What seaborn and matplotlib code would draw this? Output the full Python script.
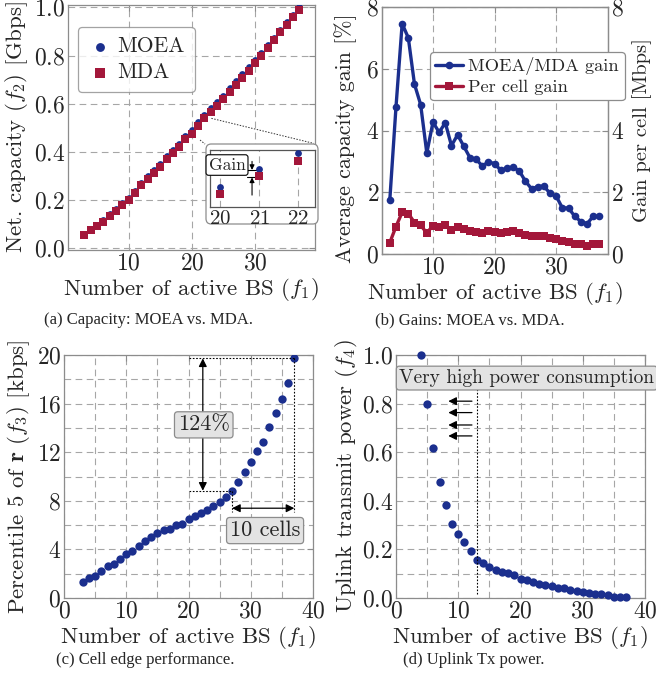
import numpy as np
import pandas as pd
import matplotlib
matplotlib.use("Agg")
import matplotlib.pyplot as plt
import seaborn as sns
from matplotlib.patches import FancyBboxPatch

# ---------------- data ----------------
n_bs = list(range(3, 38))
moea_cap = [0.057, 0.077, 0.097, 0.117, 0.142, 0.163, 0.186, 0.209, 0.237, 0.272,
            0.298, 0.325, 0.350, 0.381, 0.409, 0.433, 0.465, 0.489, 0.523, 0.554,
            0.580, 0.607, 0.633, 0.664, 0.694, 0.722, 0.752, 0.782, 0.812, 0.842,
            0.874, 0.906, 0.938, 0.970, 1.000]
mda_cap = [0.056, 0.0735, 0.0903, 0.1093, 0.1346, 0.1555, 0.1801, 0.2004, 0.2280, 0.2609,
           0.2879, 0.3129, 0.3382, 0.3695, 0.3968, 0.4210, 0.4515, 0.4751, 0.5092, 0.5391,
           0.5641, 0.5911, 0.6184, 0.6503, 0.6792, 0.7065, 0.7375, 0.7676, 0.8001, 0.8296,
           0.8635, 0.8966, 0.9289, 0.9583, 0.9879]
gain_pct = [1.76, 4.76, 7.46, 7.00, 5.50, 4.84, 3.27, 4.27, 3.94, 4.25,
            3.51, 3.86, 3.49, 3.12, 3.07, 2.85, 2.98, 2.93, 2.71, 2.77,
            2.82, 2.69, 2.36, 2.11, 2.18, 2.20, 1.96, 1.87, 1.49, 1.49,
            1.22, 1.05, 0.98, 1.22, 1.22]
gain_cell = [0.37, 0.89, 1.35, 1.31, 1.02, 0.93, 0.68, 0.92, 0.86, 0.94,
             0.78, 0.89, 0.81, 0.73, 0.72, 0.68, 0.73, 0.72, 0.68, 0.70,
             0.75, 0.68, 0.61, 0.57, 0.57, 0.58, 0.52, 0.50, 0.41, 0.40,
             0.32, 0.31, 0.26, 0.32, 0.32]
p5_rate = [1.30, 1.66, 1.79, 2.21, 2.62, 2.81, 3.17, 3.59, 3.86, 4.28,
           4.66, 5.05, 5.32, 5.60, 5.71, 5.99, 6.12, 6.48, 6.76, 6.98,
           7.26, 7.59, 7.92, 8.28, 8.83, 9.57, 10.40, 11.17, 12.08, 12.88,
           14.10, 15.26, 16.41, 17.66, 19.72]
n_bs_d = list(range(4, 38))
ul_power = [1.000, 0.800, 0.617, 0.479, 0.383, 0.304, 0.263, 0.231, 0.193, 0.158,
            0.146, 0.127, 0.114, 0.107, 0.101, 0.094, 0.080, 0.073, 0.066, 0.059,
            0.055, 0.048, 0.043, 0.043, 0.034, 0.029, 0.023, 0.022, 0.018, 0.015,
            0.011, 0.004, 0.004, 0.004]

BLUE = "#1b2f8e"
RED = "#a3173a"
GRAY = "#8c8c8c"

sns.set_style("white")
plt.rcParams["font.family"] = ["cmr10"]
plt.rcParams["mathtext.fontset"] = "cm"
plt.rcParams["axes.formatter.use_mathtext"] = True
plt.rcParams["axes.unicode_minus"] = False

TICK_FS = 17
LAB_FS = 16.5

W, H = 656, 679
fig = plt.figure(figsize=(W / 100, H / 100), dpi=100)


def rect(l, r, t, b):
    return [l / W, 1 - b / H, (r - l) / W, (b - t) / H]


def style(ax, xmaj, ymaj, xmin=None, ymin=None):
    ax.set_xticks(xmaj)
    ax.set_yticks(ymaj)
    if xmin is not None:
        ax.set_xticks(xmin, minor=True)
    if ymin is not None:
        ax.set_yticks(ymin, minor=True)
    ax.grid(True, which="both", color="#a6a6a6", linestyle=(0, (6, 4)), linewidth=0.8)
    ax.set_axisbelow(True)
    for s in ax.spines.values():
        s.set_color(GRAY)
        s.set_linewidth(0.9)
    ax.tick_params(which="both", direction="in", top=True, right=True,
                   color=GRAY, labelsize=TICK_FS, pad=2)
    ax.tick_params(which="major", length=4)
    ax.tick_params(which="minor", length=0)


# ---------------- (a) ----------------
axa = fig.add_axes(rect(68, 315, 5, 250))
sns.scatterplot(x=n_bs, y=moea_cap, ax=axa, color=BLUE, marker="o", s=24,
                linewidth=0, label="MOEA", zorder=3)
sns.scatterplot(x=n_bs, y=mda_cap, ax=axa, color=RED, marker="s", s=32,
                linewidth=0, label="MDA", zorder=4)
axa.set_xlim(0.4, 39.5)
axa.set_ylim(-0.008, 1.01)
style(axa, [10, 20, 30], [0.0, 0.2, 0.4, 0.6, 0.8, 1.0])
axa.set_xlabel("Number of active BS ($f_1$)", fontsize=LAB_FS, labelpad=1)
axa.set_ylabel("Net. capacity ($f_2$) [Gbps]", fontsize=LAB_FS, labelpad=3)
leg = axa.legend(loc="upper left", bbox_to_anchor=(0.04, 0.91), borderaxespad=0,
                 fontsize=15.5, frameon=True, fancybox=True, edgecolor=GRAY,
                 handletextpad=0.2, borderpad=0.45, labelspacing=0.3,
                 markerscale=1.3, handlelength=1.2)
leg.get_frame().set_linewidth(0.9)

# connector lines
axa.plot([23.1, 39.3], [0.539, 0.435], ls=(0, (1.5, 1.5)), color="#333333",
         lw=0.7, clip_on=False, zorder=5)
axa.plot([21.3, 22.1], [0.449, 0.432], ls=(0, (1.5, 1.5)), color="#333333",
         lw=0.7, clip_on=False, zorder=5)

# outer rounded box of the inset
box = FancyBboxPatch((206 / W, 1 - 224 / H), (318 - 206) / W, (224 - 144) / H,
                     boxstyle="round,pad=0,rounding_size=0.008",
                     transform=fig.transFigure, facecolor="white",
                     edgecolor=GRAY, linewidth=0.9, zorder=10)
fig.patches.append(box)

axi = fig.add_axes(rect(210, 315, 150, 207), zorder=11)
sns.scatterplot(x=n_bs, y=moea_cap, ax=axi, color=BLUE, marker="o", s=24,
                linewidth=0, legend=False, zorder=3)
sns.scatterplot(x=n_bs, y=mda_cap, ax=axi, color=RED, marker="s", s=32,
                linewidth=0, legend=False, zorder=4)
axi.set_xlim(19.745, 22.43)
axi.set_ylim(0.45, 0.56)
axi.set_xticks([20, 21, 22])
axi.set_yticks([])
axi.grid(True, axis="x", color="#a6a6a6", linestyle=(0, (6, 4)), linewidth=0.8)
axi.set_axisbelow(True)
for s in axi.spines.values():
    s.set_color("#555555")
    s.set_linewidth(0.9)
axi.tick_params(axis="x", direction="in", length=0, labelsize=15, pad=2)
axi.set_xlabel("")
axi.set_ylabel("")
axi.text(20.18, 0.531, "Gain", fontsize=12.5, ha="center", va="center",
         bbox=dict(boxstyle="round,pad=0.15", fc="white", ec="black", lw=0.8),
         zorder=6, clip_on=False)
axi.plot([20.68, 20.98], [0.5215, 0.5215], color="black", lw=0.8)
axi.plot([20.68, 20.98], [0.507, 0.507], color="black", lw=0.8)
axi.annotate("", xy=(20.82, 0.5215), xytext=(20.82, 0.538),
             arrowprops=dict(arrowstyle="-|>", color="black", lw=0.8,
                             mutation_scale=7, shrinkA=0, shrinkB=0))
axi.annotate("", xy=(20.82, 0.507), xytext=(20.82, 0.473),
             arrowprops=dict(arrowstyle="-|>", color="black", lw=0.8,
                             mutation_scale=7, shrinkA=0, shrinkB=0))

# ---------------- (b) ----------------
axb = fig.add_axes(rect(382, 608, 7, 254))
sns.lineplot(x=n_bs, y=gain_pct, ax=axb, color=BLUE, marker="o", markersize=5.5,
             markeredgewidth=0, linewidth=2.4, label="MOEA/MDA gain", legend=False)
axb.set_xlim(1.73, 38.4)
axb.set_ylim(0, 8)
style(axb, [10, 20, 30], [0, 2, 4, 6, 8])
axb.tick_params(right=False)
axb.set_xlabel("Number of active BS ($f_1$)", fontsize=LAB_FS, labelpad=1)
axb.set_ylabel("Average capacity gain [%]", fontsize=15.8, labelpad=3)
axb.yaxis.set_label_coords(-0.11, 0.47)

axb2 = axb.twinx()
sns.lineplot(x=n_bs, y=gain_cell, ax=axb2, color=RED, marker="s", markersize=5.5,
             markeredgewidth=0, linewidth=2.4, label="Per cell gain", legend=False)
axb2.set_ylim(0, 8)
axb2.set_yticks([0, 2, 4, 6, 8])
axb2.grid(False)
for s in axb2.spines.values():
    s.set_color(GRAY)
    s.set_linewidth(0.9)
axb2.tick_params(direction="in", color=GRAY, labelsize=TICK_FS, length=4, pad=2)
axb2.set_ylabel("Gain per cell [Mbps]", fontsize=14.8, labelpad=6)
h1, l1 = axb.get_legend_handles_labels()
h2, l2 = axb2.get_legend_handles_labels()
legb = axb2.legend(h1 + h2, l1 + l2, loc="upper left", bbox_to_anchor=(0.212, 0.818),
                   borderaxespad=0, fontsize=13.2, frameon=True, fancybox=True,
                   edgecolor=GRAY, handlelength=1.5, handletextpad=0.3,
                   borderpad=0.3, labelspacing=0.2, framealpha=1)
legb.get_frame().set_linewidth(0.9)

# ---------------- (c) ----------------
axc = fig.add_axes(rect(64, 313, 355, 598))
sns.scatterplot(x=n_bs, y=p5_rate, ax=axc, color=BLUE, marker="o", s=36,
                linewidth=0, legend=False, zorder=3)
axc.set_xlim(0, 40)
axc.set_ylim(0, 20)
style(axc, [0, 10, 20, 30, 40], [0, 4, 8, 12, 16, 20],
      xmin=[5, 15, 25, 35], ymin=[2, 6, 10, 14, 18])
axc.set_xlabel("Number of active BS ($f_1$)", fontsize=LAB_FS, labelpad=1)
axc.set_ylabel(r"Percentile 5 of $\mathbf{r}$ ($f_3$) [kbps]", fontsize=LAB_FS, labelpad=3)
dot = dict(ls=(0, (1.5, 1.5)), color="black", lw=0.8, zorder=4)
axc.plot([20.1, 37], [19.72, 19.72], **dot)
axc.plot([37, 37], [19.72, 7.1], **dot)
axc.plot([20.1, 27], [8.83, 8.83], **dot)
axc.plot([27, 27], [8.83, 7.1], **dot)
axc.annotate("", xy=(22.3, 19.72), xytext=(22.3, 8.83),
             arrowprops=dict(arrowstyle="<|-|>", color="black", lw=0.9,
                             mutation_scale=12, shrinkA=0, shrinkB=0), zorder=5)
axc.annotate("", xy=(27, 7.39), xytext=(37, 7.39),
             arrowprops=dict(arrowstyle="<|-|>", color="black", lw=0.9,
                             mutation_scale=12, shrinkA=0, shrinkB=0), zorder=5)
tbox = dict(boxstyle="round,pad=0.15", fc="#e3e3e3", ec=GRAY, lw=0.9)
axc.text(22.45, 14.25, "124%", fontsize=16, ha="center", va="center", bbox=tbox, zorder=6)
axc.text(32.3, 5.55, "10 cells", fontsize=16, ha="center", va="center", bbox=tbox,
         zorder=6, clip_on=False)

# ---------------- (d) ----------------
axd = fig.add_axes(rect(396, 645, 355, 598))
sns.scatterplot(x=n_bs_d, y=ul_power, ax=axd, color=BLUE, marker="o", s=36,
                linewidth=0, legend=False, zorder=3, clip_on=False)
axd.set_xlim(0, 40)
axd.set_ylim(0, 1.0)
style(axd, [0, 10, 20, 30, 40], [0.0, 0.2, 0.4, 0.6, 0.8, 1.0],
      xmin=[5, 15, 25, 35], ymin=[0.1, 0.3, 0.5, 0.7, 0.9])
axd.set_xlabel("Number of active BS ($f_1$)", fontsize=LAB_FS, labelpad=1)
axd.set_ylabel("Uplink transmit power ($f_4$)", fontsize=LAB_FS, labelpad=1)
axd.plot([13, 13], [0.015, 0.9], ls=(0, (1.5, 1.5)), color="black", lw=0.8, zorder=4)
for yy in [0.81, 0.763, 0.712, 0.667]:
    axd.annotate("", xy=(8.4, yy), xytext=(12.2, yy),
                 arrowprops=dict(arrowstyle="-|>", color="black", lw=0.9,
                                 mutation_scale=12, shrinkA=0, shrinkB=0), zorder=5)
axd.text(21.0, 0.905, "Very high power consumption", fontsize=14, ha="center",
         va="center", bbox=tbox, zorder=6, clip_on=False)

# ---------------- captions ----------------
cap_kw = dict(family=["Liberation Serif"], fontsize=12, ha="center", va="center")
fig.text(148 / W, 1 - 320 / H, "(a) Capacity: MOEA vs. MDA.", **cap_kw)
fig.text(470 / W, 1 - 320 / H, "(b) Gains: MOEA vs. MDA.", **cap_kw)
fig.text(145 / W, 1 - 660 / H, "(c) Cell edge performance.", **cap_kw)
fig.text(474 / W, 1 - 660 / H, "(d) Uplink Tx power.", **cap_kw)

fig.savefig("out.png", dpi=100)
